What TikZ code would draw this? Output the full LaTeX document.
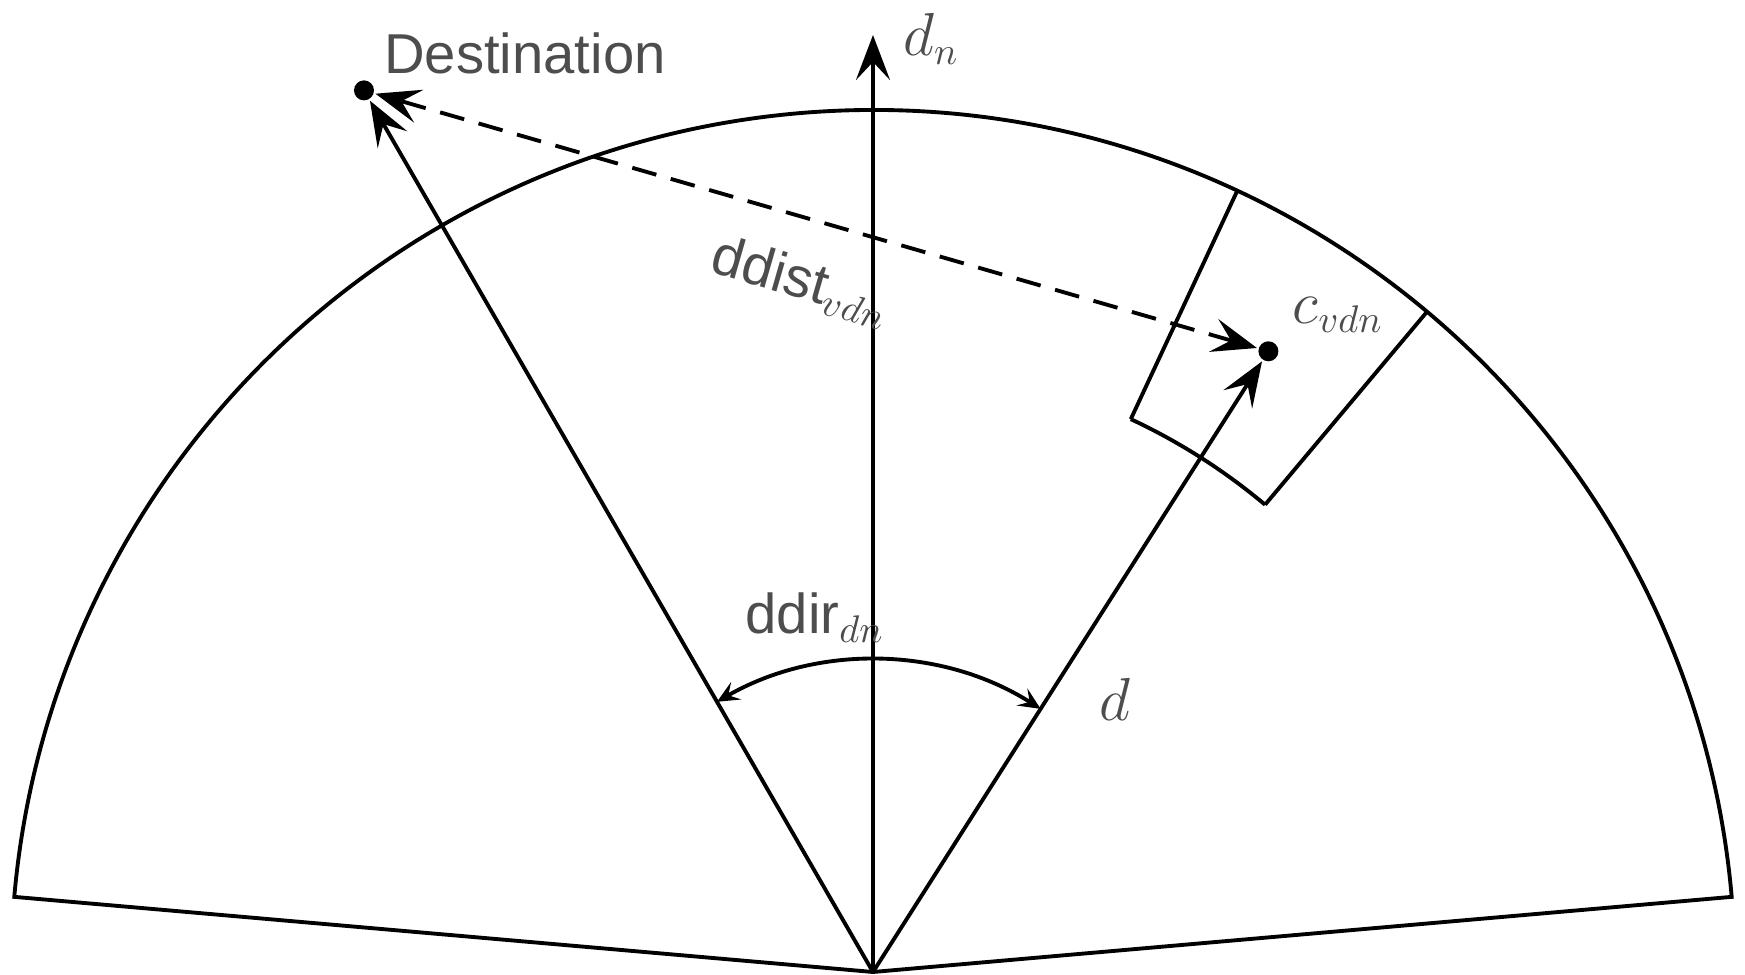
\documentclass[tikz,border=0pt]{standalone}
\usepackage{amsmath,amssymb}
\usepackage{fontspec}
\setsansfont{Liberation Sans}
\usepackage{xcolor}
\usepackage{tikz}
\usetikzlibrary{positioning,arrows.meta}
\definecolor{lblgray}{HTML}{4D4D4D}

\begin{document}
\begin{tikzpicture}[
  line width=1.1pt, line join=miter,
  lbl/.style={text=lblgray, font=\fontsize{16}{19}\selectfont\sffamily, inner sep=1pt},
  dot/.style={circle, fill, inner sep=0pt, minimum size=2mm},
  arr/.style={-{Stealth[length=4.5mm, width=3.4mm, inset=1.8mm]}},
  darr/.style={{Stealth[length=4.5mm, width=3.4mm, inset=1.8mm]}-{Stealth[length=4.5mm, width=3.4mm, inset=1.8mm]},
               dash pattern=on 2.5mm off 1.5mm},
  angarr/.style={{Stealth[length=2.2mm, width=2mm, inset=0.9mm]}-{Stealth[length=2.2mm, width=2mm, inset=0.9mm]}}]
\useasboundingbox (-8.73,-0.03) rectangle (8.72,9.72);
\coordinate (o) at (0,0);
% search sector
\draw (o) -- (5:8.62) arc[start angle=5, end angle=175, radius=8.62] -- cycle;
% cell of the sector
\draw (65:6.1) -- (65:8.62);
\draw (50:6.1) -- (50:8.62);
\draw (65:6.1) arc[start angle=65, end angle=50, radius=6.1];
\node[dot] (dest) at (120:10.18) {};
\node[dot] (cell) at (57.5:7.36) {};
\coordinate (dn) at (90:9.37);
\draw[arr] (o) -- (dn);
\draw[arr] (o) -- (dest);
\draw[arr] (o) -- (cell);
\draw[darr] (cell) -- (dest);
\draw[angarr] (120:3.12) arc[start angle=120, end angle=57.5, radius=3.12];
% labels
\node[lbl] (destlbl) at (-3.48,9.19) {Destination};
\node[lbl] (dnlbl) at (0.58,9.33) {$d_n$};
\node[lbl, rotate=-16.1] (distlbl) at (-0.72,6.9) {ddist$_{vdn}$};
\node[lbl] (cdlbl) at (4.65,6.57) {$c_{vdn}$};
\node[lbl] (dirlbl) at (-0.58,3.54) {ddir$_{dn}$};
\node[lbl] (dlbl) at (2.42,2.73) {$d$};
\end{tikzpicture}
\end{document}
